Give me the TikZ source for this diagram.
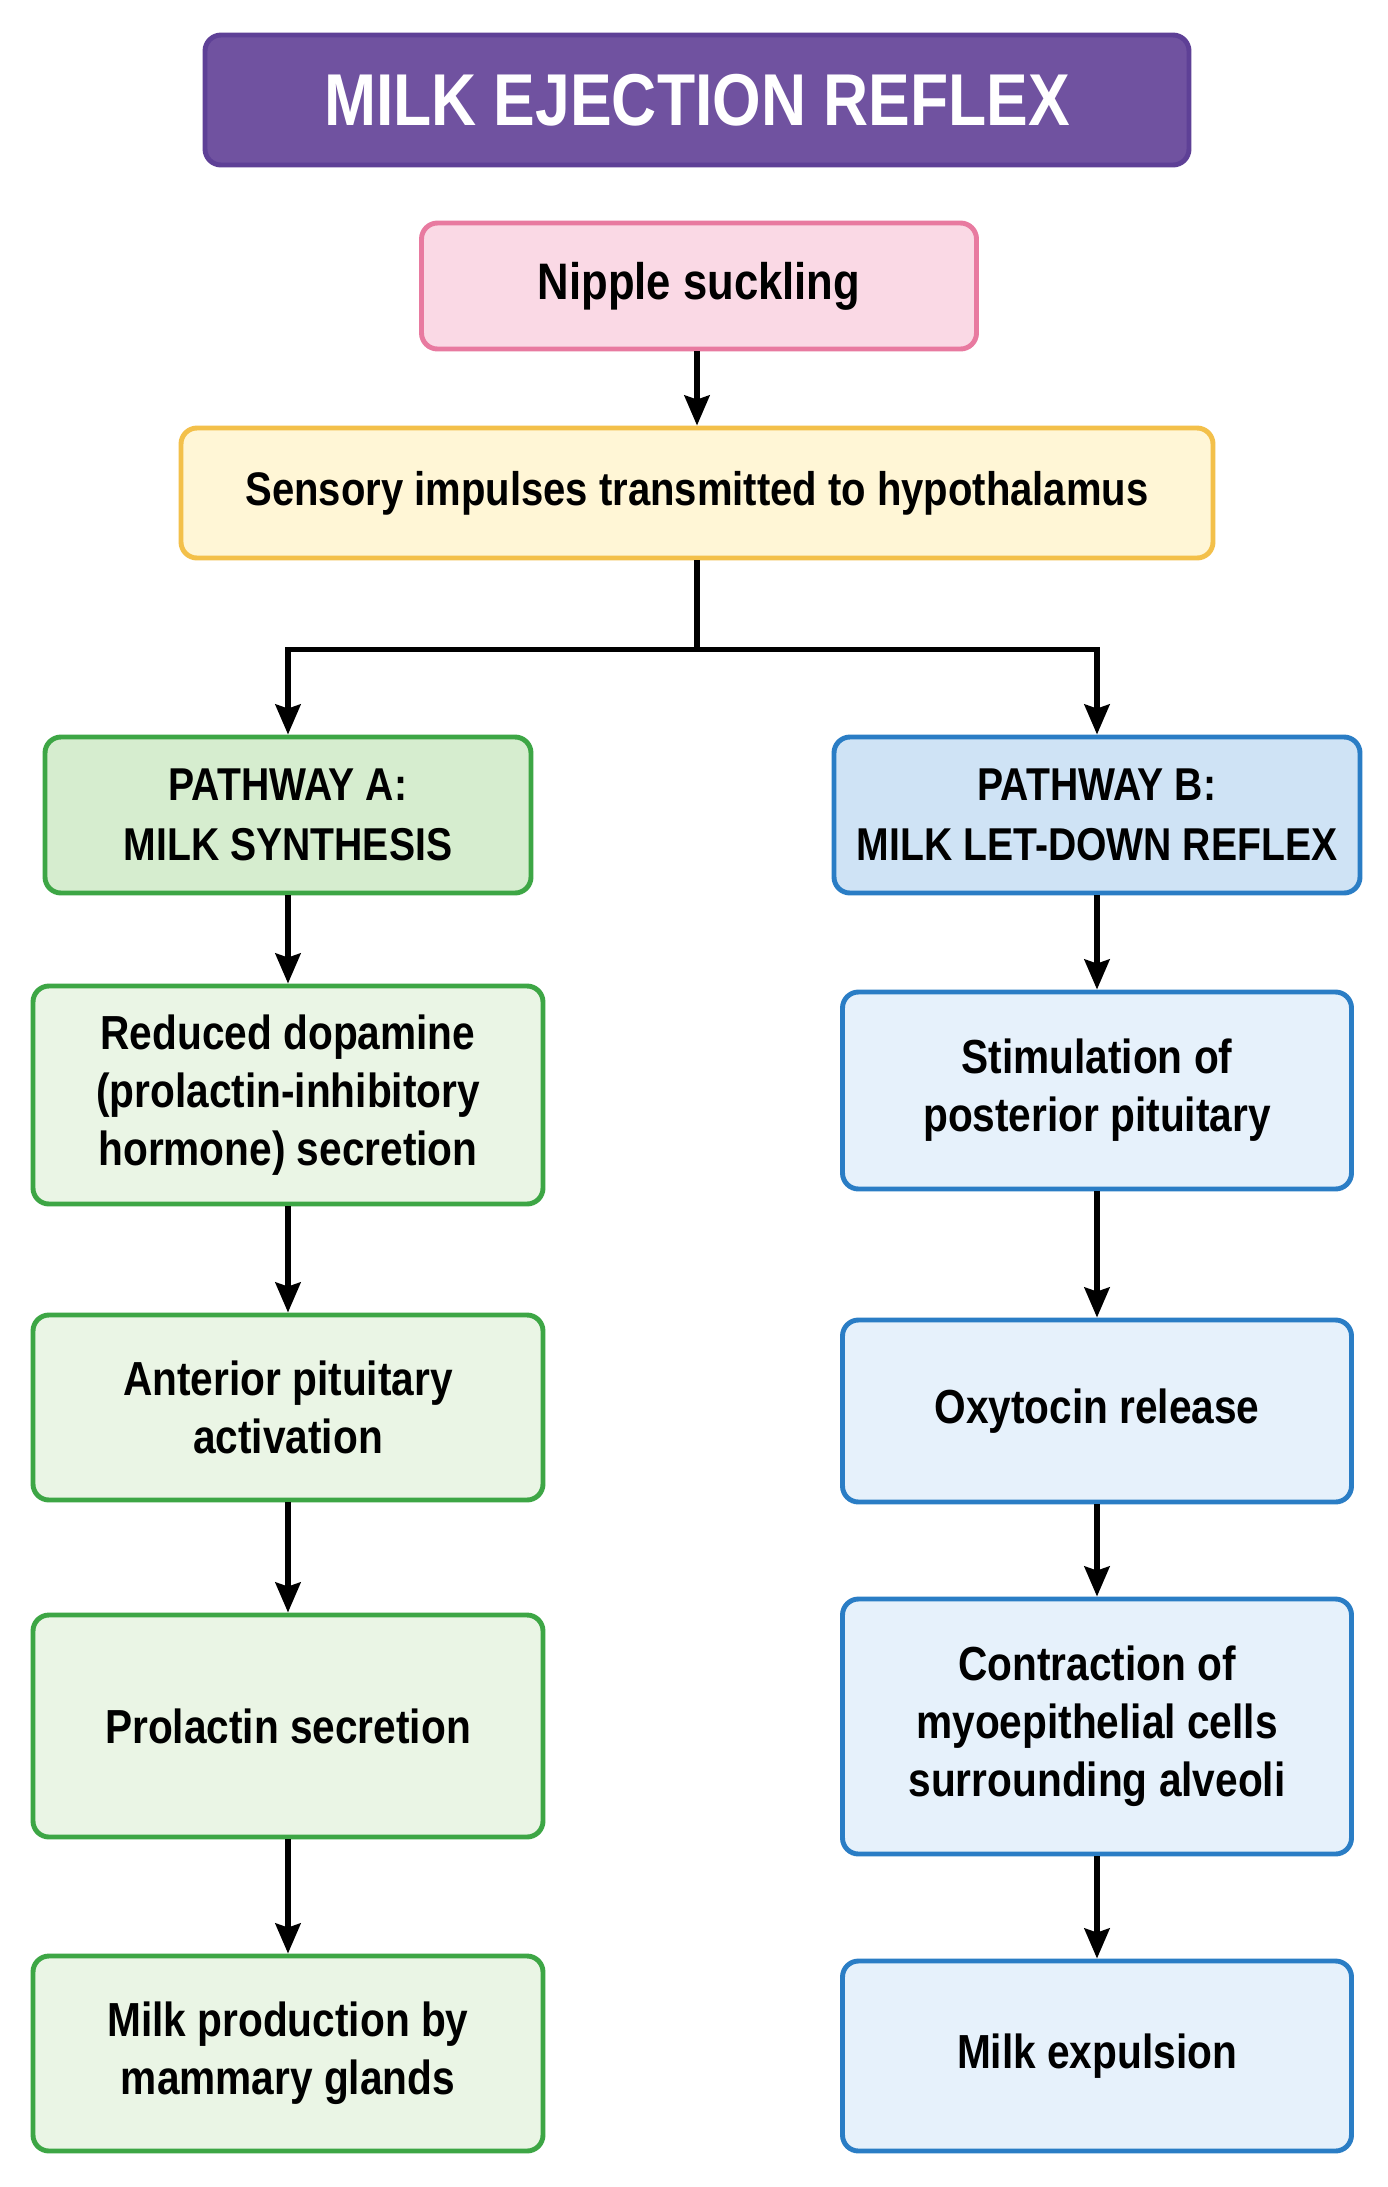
\documentclass[tikz,border=0pt]{standalone}
\usepackage{fontspec}
\setmainfont{Liberation Sans}[FakeStretch=0.85]
\usetikzlibrary{arrows.meta, positioning, calc}
\usepackage{xcolor}
\definecolor{mpurple}{RGB}{112,82,160}
\definecolor{mpurpled}{RGB}{94,64,150}
\definecolor{mpink}{RGB}{232,122,160}
\definecolor{mpinkl}{RGB}{250,217,229}
\definecolor{myellow}{RGB}{243,192,74}
\definecolor{myellowl}{RGB}{255,246,214}
\definecolor{mgreen}{RGB}{61,166,69}
\definecolor{mgreenm}{RGB}{214,237,207}
\definecolor{mgreenl}{RGB}{234,245,229}
\definecolor{mblue}{RGB}{42,125,197}
\definecolor{mbluem}{RGB}{207,227,245}
\definecolor{mbluel}{RGB}{230,241,251}

\begin{document}
\begin{tikzpicture}[
  box/.style={draw,rounded corners=0.16cm,line width=1.4pt,align=center,
              inner sep=0pt,font=\fontsize{13.6}{16.5}\selectfont\bfseries},
  gbox/.style={box,draw=mgreen,fill=mgreenl,minimum width=5.10cm},
  bbox/.style={box,draw=mblue,fill=mbluel,minimum width=5.09cm},
  arr/.style={-{Stealth[length=0.3cm,width=0.25cm,inset=0.04cm]},line width=1.6pt}
]
\fill[white] (0,0) rectangle (13.88,-21.87);
\useasboundingbox (0,0) rectangle (13.88,-21.87);

% header and common part
\node[box,draw=mpurpled,fill=mpurple,text=white,minimum width=9.84cm,minimum height=1.30cm,
      font=\fontsize{20.9}{24}\selectfont\bfseries] (title) at (6.97,-1.00) {MILK EJECTION REFLEX};
\node[box,draw=mpink,fill=mpinkl,minimum width=5.55cm,minimum height=1.26cm,
      font=\fontsize{14.6}{17}\selectfont\bfseries] (nip) at (6.99,-2.86) {Nipple suckling};
\node[box,draw=myellow,fill=myellowl,minimum width=10.32cm,minimum height=1.30cm,
      font=\fontsize{13.4}{16.4}\selectfont\bfseries] (sen) at (6.97,-4.93)
      {Sensory impulses transmitted to hypothalamus};

% pathway A
\node[gbox,fill=mgreenm,minimum width=4.86cm,minimum height=1.56cm,
      font=\fontsize{13.1}{17}\selectfont\bfseries] (pa) at (2.88,-8.15) {PATHWAY A:\\MILK SYNTHESIS};
\node[gbox,minimum height=2.18cm] (dop) at (2.88,-10.95) {Reduced dopamine\\(prolactin-inhibitory\\hormone) secretion};
\node[gbox,minimum height=1.85cm] (ant) at (2.88,-14.075) {Anterior pituitary\\activation};
\node[gbox,minimum height=2.22cm] (prl) at (2.88,-17.26) {Prolactin secretion};
\node[gbox,minimum height=1.95cm] (prod) at (2.88,-20.535) {Milk production by\\mammary glands};

% pathway B
\node[bbox,fill=mbluem,minimum width=5.26cm,minimum height=1.56cm,
      font=\fontsize{13.1}{17}\selectfont\bfseries] (pb) at (10.97,-8.15) {PATHWAY B:\\MILK LET-DOWN REFLEX};
\node[bbox,minimum height=1.97cm] (stim) at (10.97,-10.905) {Stimulation of\\posterior pituitary};
\node[bbox,minimum height=1.82cm] (oxy) at (10.97,-14.11) {Oxytocin release};
\node[bbox,minimum height=2.55cm] (con) at (10.97,-17.265) {Contraction of\\myoepithelial cells\\surrounding alveoli};
\node[bbox,minimum height=1.90cm] (exp) at (10.97,-20.56) {Milk expulsion};

\coordinate (split) at ($(sen.south)+(0,-0.89)$);

\draw[arr] (nip.south -| sen) -- (sen);
\draw[line width=1.6pt] (sen.south) -- (split);
\draw[arr] (split) -| (pa.north);
\draw[arr] (split) -| (pb.north);
\draw[arr] (pa) -- (dop); \draw[arr] (dop) -- (ant);
\draw[arr] (ant) -- (prl); \draw[arr] (prl) -- (prod);
\draw[arr] (pb) -- (stim); \draw[arr] (stim) -- (oxy);
\draw[arr] (oxy) -- (con); \draw[arr] (con) -- (exp);
\end{tikzpicture}
\end{document}
